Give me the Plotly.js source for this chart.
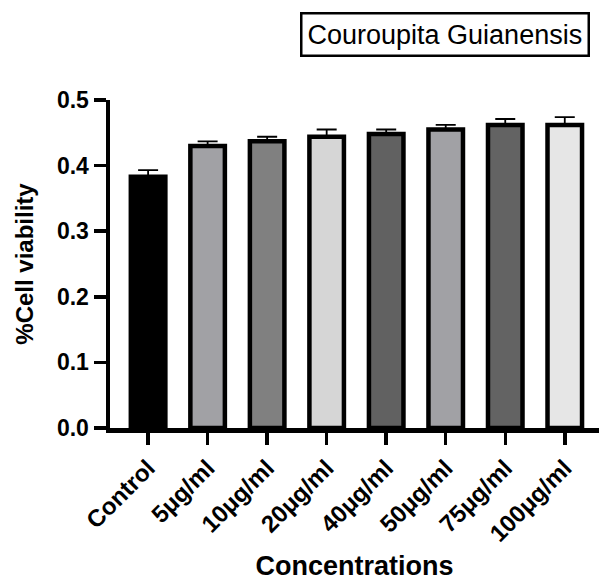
<!DOCTYPE html>
<html>
<head>
<meta charset="utf-8">
<script src="https://cdn.plot.ly/plotly-3.0.1.min.js"></script>
<style>html,body{margin:0;padding:0;background:#fff;}#chart{width:599px;height:581px;}</style>
</head>
<body>
<div id="chart"></div>
<script>
const categories = ["Control", "5μg/ml", "10μg/ml", "20μg/ml", "40μg/ml", "50μg/ml", "75μg/ml", "100μg/ml"];
const viability = [0.383, 0.430, 0.437, 0.444, 0.448, 0.455, 0.462, 0.462];
const errorUp = [0.010, 0.007, 0.007, 0.011, 0.007, 0.007, 0.009, 0.012];
const barColors = ["#000000", "#a1a1a5", "#808080", "#d6d6d6", "#616161", "#a1a1a5", "#636363", "#e6e6e6"];
const yTickValues = [0, 0.1, 0.2, 0.3, 0.4, 0.5];
const yTickLabels = ["0.0", "0.1", "0.2", "0.3", "0.4", "0.5"];
const legendLabel = "Couroupita Guianensis";

const FONT = "Liberation Sans, Arial, sans-serif";

const trace = {
  type: "bar",
  x: categories.map((c, i) => i),
  y: viability,
  width: 0.58,
  marker: { color: barColors, line: { color: "#000", width: 4.5 } },
  error_y: {
    type: "data", array: errorUp, arrayminus: errorUp.map(() => 0),
    symmetric: false, color: "#000", thickness: 1.8, width: 10
  },
  hoverinfo: "none"
};

const layout = {
  width: 599, height: 581,
  margin: { l: 110, r: 0, t: 100, b: 153, pad: 0 },
  paper_bgcolor: "#fff", plot_bgcolor: "#fff",
  showlegend: false,
  font: { family: FONT, color: "#000" },
  xaxis: {
    range: [-0.64, 7.575],
    tickmode: "array", tickvals: categories.map((c, i) => i), ticktext: categories,
    tickangle: -45,
    tickfont: { family: FONT, size: 24, color: "#000", weight: "bold" },
    showline: true, linecolor: "#000", linewidth: 4.5,
    ticks: "outside", ticklen: 12, tickwidth: 3.5, tickcolor: "#000",
    showgrid: false, zeroline: false,
    title: { text: "<b>Concentrations</b>", font: { family: FONT, size: 27, color: "#000" }, standoff: 22 }
  },
  yaxis: {
    range: [0, 0.5],
    tickmode: "array", tickvals: yTickValues, ticktext: yTickLabels,
    tickfont: { family: FONT, size: 23, color: "#000", weight: "bold" },
    showline: true, linecolor: "#000", linewidth: 4.5,
    ticks: "outside", ticklen: 12, tickwidth: 3.5, tickcolor: "#000",
    showgrid: false, zeroline: false,
    title: { text: "<b>%Cell viability</b>", font: { family: FONT, size: 24, color: "#000" }, standoff: 18 }
  },
  annotations: [{
    text: legendLabel, xref: "paper", yref: "paper",
    x: 0.686, y: 1.2, xanchor: "center", yanchor: "middle",
    showarrow: false, font: { family: FONT, size: 27, color: "#000" },
    bordercolor: "#000", borderwidth: 2.5, borderpad: 5, bgcolor: "#fff"
  }]
};

Plotly.newPlot("chart", [trace], layout, { staticPlot: true, displayModeBar: false });
</script>
</body>
</html>
